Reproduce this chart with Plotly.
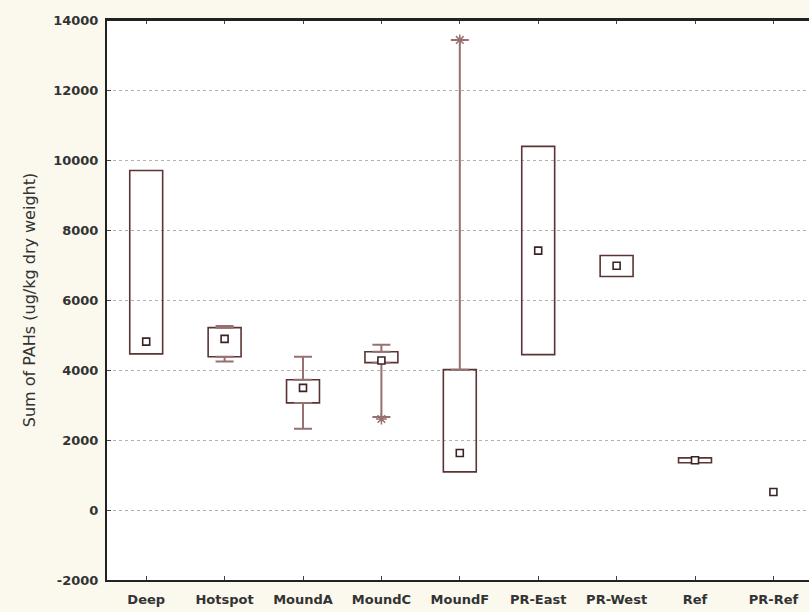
import plotly.graph_objects as go

categories = ["Deep", "Hotspot", "MoundA", "MoundC", "MoundF", "PR-East", "PR-West", "Ref", "PR-Ref"]
medians = [4810, 4890, 3490, 4270, 1630, 7410, 6980, 1420, 515]
q1 = [4460, 4380, 3060, 4210, 1090, 4440, 6670, 1350, None]
q3 = [9700, 5210, 3720, 4520, 4010, 10390, 7270, 1490, None]
upper_whisker = [None, 5260, 4380, 4720, 13430, None, None, None, None]
lower_whisker = [None, 4240, 2320, 2660, None, None, None, None, None]
outlier_x = ["MoundF", "MoundC"]
outlier_y = [13430, 2600]
y_ticks = [-2000, 0, 2000, 4000, 6000, 8000, 10000, 12000, 14000]
y_tick_labels = ["-2000", "0", "2000", "4000", "6000", "8000", "10000", "12000", "14000"]

BOX_COL = "#5a3434"
WHISK_COL = "#977070"
FONT = dict(family="DejaVu Sans", size=13, color="#333333", weight="bold")

fig = go.Figure()

# boxes
box_x = [c for c, a in zip(categories, q1) if a is not None]
box_base = [a for a in q1 if a is not None]
box_h = [b - a for a, b in zip(q1, q3) if a is not None]
fig.add_trace(go.Bar(x=box_x, y=box_h, base=box_base, width=0.42,
                     marker=dict(color="rgba(255,255,255,0)", line=dict(color=BOX_COL, width=1.6)),
                     hoverinfo="skip", showlegend=False))

# upper whiskers
ux, uy, ue = [], [], []
for c, top, w in zip(categories, q3, upper_whisker):
    if w is not None:
        ux.append(c); uy.append(top); ue.append(w - top)
fig.add_trace(go.Scatter(x=ux, y=uy, mode="markers", marker=dict(size=0.1, color="rgba(0,0,0,0)"),
                         error_y=dict(type="data", symmetric=False, array=ue, arrayminus=[0]*len(ue),
                                      color=WHISK_COL, thickness=2, width=9),
                         hoverinfo="skip", showlegend=False))
# lower whiskers
lx, ly, le = [], [], []
for c, bot, w in zip(categories, q1, lower_whisker):
    if w is not None:
        lx.append(c); ly.append(bot); le.append(bot - w)
fig.add_trace(go.Scatter(x=lx, y=ly, mode="markers", marker=dict(size=0.1, color="rgba(0,0,0,0)"),
                         error_y=dict(type="data", symmetric=False, array=[0]*len(le), arrayminus=le,
                                      color=WHISK_COL, thickness=2, width=9),
                         hoverinfo="skip", showlegend=False))

# outliers
fig.add_trace(go.Scatter(x=outlier_x, y=outlier_y, mode="markers",
                         marker=dict(symbol="asterisk-open", size=9, color=WHISK_COL,
                                     line=dict(color=WHISK_COL, width=1.5)),
                         hoverinfo="skip", showlegend=False))

# medians
fig.add_trace(go.Scatter(x=categories, y=medians, mode="markers",
                         marker=dict(symbol="square", size=7, color="white", line=dict(color="#3a2424", width=1.6)),
                         hoverinfo="skip", showlegend=False))

fig.update_layout(
    width=809, height=612,
    margin=dict(l=107, r=0, t=20, b=32, autoexpand=False),
    paper_bgcolor="#fbf8ee", plot_bgcolor="white",
    barmode="overlay",
)
fig.update_xaxes(type="category", categoryorder="array", categoryarray=categories,
                 range=[-0.5, 8.454], showline=True, linecolor="#222222", linewidth=2,
                 mirror="ticks", ticks="inside", ticklen=4, tickcolor="#444444",
                 showgrid=False, tickfont=FONT, automargin=False, ticklabelstandoff=6)
fig.update_yaxes(range=[-2000, 14000], tickvals=y_ticks, ticktext=y_tick_labels,
                 showline=True, linecolor="#222222", linewidth=2,
                 ticks="inside", ticklen=4, tickcolor="#444444", mirror=False,
                 showgrid=True, gridcolor="#b0b0b0", griddash="dot", gridwidth=1,
                 zeroline=False, tickfont=FONT, automargin=False, ticklabelstandoff=4,
                 title=dict(text="Sum of PAHs (ug/kg dry weight)", standoff=14,
                            font=dict(family="DejaVu Sans", size=16, color="#333333")))
# top frame line
fig.add_shape(type="line", xref="paper", yref="paper", x0=0, x1=1, y0=1, y1=1,
              line=dict(color="#222222", width=2))

fig.write_html("out.html", config={"displayModeBar": False},
               post_script="document.body.style.margin='0';")
